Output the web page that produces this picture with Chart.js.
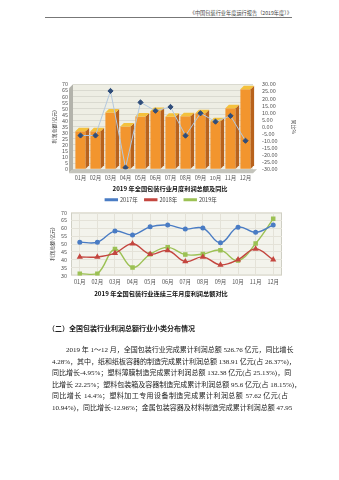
<!DOCTYPE html>
<html><head><meta charset="utf-8">
<script src="https://cdn.jsdelivr.net/npm/chart.js@4"></script>
<style>
html,body{margin:0;padding:0;background:#fff;}
body{width:339px;height:480px;position:relative;overflow:hidden;font-family:"Liberation Serif","Noto Sans CJK SC",serif;color:#222;}
.abs{position:absolute;}
#hdr{right:47px;top:9px;font-size:5.2px;font-family:"Noto Sans CJK SC",sans-serif;color:#444;white-space:nowrap;}
#hline{left:45px;top:17px;width:247px;height:0;border-top:0.6px solid #777;}
#c1wrap{left:40px;top:72px;width:260px;height:121px;}
#c2wrap{left:40px;top:190px;width:260px;height:109px;}
#head2{left:48px;top:323px;font-size:7px;font-weight:bold;font-family:"Noto Sans CJK SC",sans-serif;white-space:nowrap;}
#para{left:52px;top:345px;width:236px;font-size:7px;}
#para div{height:11.6px;line-height:11.6px;text-align:justify;text-align-last:justify;white-space:nowrap;}
</style></head><body>
<div id="hdr" class="abs">《中国包装行业年度运行报告（2019年度）》</div>
<div id="hline" class="abs"></div>
<div id="c1wrap" class="abs"><canvas id="c1"></canvas></div>
<div id="c2wrap" class="abs"><canvas id="c2"></canvas></div>
<div id="head2" class="abs">（二）全国包装行业利润总额行业小类分布情况</div>
<div id="para" class="abs">
<div style="padding-left:14px">2019 年 1～12 月，全国包装行业完成累计利润总额 526.76 亿元，同比增长</div>
<div>4.28%，其中，纸和纸板容器的制造完成累计利润总额 138.91 亿元(占 26.37%)，</div>
<div>同比增长-4.95%；塑料薄膜制造完成累计利润总额 132.38 亿元(占 25.13%)，同</div>
<div>比增长 22.25%；塑料包装箱及容器制造完成累计利润总额 95.6 亿元(占 18.15%)，</div>
<div>同比增长 14.4%；塑料加工专用设备制造完成累计利润总额 57.62 亿元(占</div>
<div>10.94%)，同比增长-12.96%；金属包装容器及材料制造完成累计利润总额 47.95</div>
</div>
<script>
const months = ['01月','02月','03月','04月','05月','06月','07月','08月','09月','10月','11月','12月'];
const profit2017 = [51.2,51.2,58.2,55.8,60.9,62.0,59.5,60.1,50.8,60.7,57.4,62.0];
const profit2018 = [41.8,41.8,44.2,50.2,43.6,45.9,38.9,41.8,36.8,40.1,46.9,40.1];
const profit2019 = [31.2,31.2,46.8,35.1,43.5,47.9,43.3,43.7,46.1,39.5,50.3,66.0];
const growth2019 = [-6.2,-6.2,25.3,-28.9,17.2,11.3,14.0,-6.3,9.5,3.6,7.7,-9.9];
const leftTitle = '利润总额(亿元)';
const rightTitle = '同比%';
const title1 = '2019 年全国包装行业月度利润总额及同比';
const title2 = '2019 年全国包装行业连续三年月度利润总额对比';
const seriesNames = ['2017年','2018年','2019年'];

const CJK = '"Noto Sans CJK SC", sans-serif';
Chart.defaults.font.family = CJK;
Chart.defaults.animation = false;
Chart.defaults.devicePixelRatio = 1;

const wallPlugin = {
  id:'wall3d',
  beforeDatasetsDraw(chart){
    const {ctx, chartArea:{left:L,right:R,top:T,bottom:B}} = chart;
    ctx.save();
    ctx.fillStyle = '#b3b3ab';
    ctx.beginPath(); ctx.moveTo(L-4,T+4); ctx.lineTo(L,T); ctx.lineTo(L,B); ctx.lineTo(L-4,B+4); ctx.closePath(); ctx.fill();
    ctx.fillStyle = '#c4c4bc';
    ctx.beginPath(); ctx.moveTo(L-4,B+4); ctx.lineTo(L,B); ctx.lineTo(R+4,B); ctx.lineTo(R,B+4); ctx.closePath(); ctx.fill();
    ctx.restore();
  },
  beforeDraw(chart){
    const {ctx, chartArea:{left:L,right:R,top:T,bottom:B}} = chart;
    ctx.save();
    ctx.fillStyle = '#eeeee4';
    ctx.fillRect(L,T,R-L,B-T);
    ctx.restore();
  },
  afterDatasetDraw(chart, args){
    if (args.index !== 0) return;
    const ctx = chart.ctx;
    const d = 3.5;
    ctx.save();
    args.meta.data.forEach(el => {
      const p = el.getProps(['x','y','base','width'], true);
      const hw = p.width/2;
      ctx.fillStyle = '#b8621c';
      ctx.beginPath();
      ctx.moveTo(p.x+hw, p.y); ctx.lineTo(p.x+hw+d, p.y-d); ctx.lineTo(p.x+hw+d, p.base-d); ctx.lineTo(p.x+hw, p.base);
      ctx.closePath(); ctx.fill();
      ctx.fillStyle = '#f4c13c';
      ctx.beginPath();
      ctx.moveTo(p.x-hw, p.y); ctx.lineTo(p.x-hw+d, p.y-d); ctx.lineTo(p.x+hw+d, p.y-d); ctx.lineTo(p.x+hw, p.y);
      ctx.closePath(); ctx.fill();
    });
    ctx.restore();
  }
};

const tickX = {font:{size:5.5}, color:'#555', maxRotation:0, minRotation:0, autoSkip:false};

new Chart(document.getElementById('c1'), {
  data:{
    labels: months,
    datasets:[
      {type:'bar', label:'利润总额', data: profit2019, yAxisID:'y', backgroundColor:'#f2952e', barPercentage:0.68, categoryPercentage:1, order:2},
      {type:'line', label:'同比', data: growth2019, yAxisID:'y1', borderColor:'#b3c8de', borderWidth:1, tension:0,
       pointStyle:'rectRot', pointRadius:2.6, pointBackgroundColor:'#2f4d7a', pointBorderColor:'#2f4d7a', order:1}
    ]
  },
  options:{
    responsive:true, maintainAspectRatio:false,
    layout:{padding:{top:8,left:0,right:0,bottom:0}},
    plugins:{
      legend:{display:false},
      tooltip:{enabled:false},
      title:{display:true, text:title1, position:'bottom', font:{size:6.2, weight:'bold', family:CJK}, color:'#111', padding:{top:2.4,bottom:1}}
    },
    scales:{
      x:{grid:{display:false, drawTicks:false}, border:{display:false},
         ticks:Object.assign({padding:5}, tickX),
         afterFit(s){ s.height = 13; }},
      y:{position:'left', min:0, max:70, ticks:{stepSize:5, autoSkip:false, font:{size:5.5}, color:'#555', padding:5},
         grid:{color:'#dadad0', drawTicks:false}, border:{display:false},
         title:{display:true, text:leftTitle, font:{size:5}, color:'#333', padding:{top:11,bottom:0}},
         afterFit(s){ s.width = 33; }},
      y1:{position:'right', min:-30, max:30, ticks:{stepSize:5, autoSkip:false, font:{size:5.5}, color:'#555', padding:9, callback:v=>Number(v).toFixed(2)},
         grid:{display:false, drawTicks:false}, border:{display:false},
         title:{display:true, text:rightTitle, font:{size:5}, color:'#333', padding:{top:3,bottom:0}},
         afterFit(s){ s.width = 47; }}
    }
  },
  plugins:[wallPlugin]
});

const bgPlugin = {
  id:'bg2',
  beforeDraw(chart){
    const {ctx, chartArea:{left:L,right:R,top:T,bottom:B}} = chart;
    ctx.save(); ctx.fillStyle = '#f3f3ec'; ctx.fillRect(L,T,R-L,B-T);
    ctx.strokeStyle = '#cfcfc4'; ctx.lineWidth = 1; ctx.strokeRect(L+0.5,T+0.5,R-L-1,B-T-1);
    ctx.restore();
  }
};

new Chart(document.getElementById('c2'), {
  type:'line',
  data:{
    labels: months,
    datasets:[
      {label:seriesNames[0], data:profit2017, borderColor:'#4a7cc4', backgroundColor:'#4a7cc4', borderWidth:1.4, tension:0.4, pointStyle:'circle', pointRadius:1.8, pointBackgroundColor:'#4a7cc4', pointBorderColor:'#4a7cc4'},
      {label:seriesNames[1], data:profit2018, borderColor:'#c4463f', backgroundColor:'#c4463f', borderWidth:1.4, tension:0.4, pointStyle:'triangle', pointRadius:2.2, pointBackgroundColor:'#c4463f', pointBorderColor:'#c4463f'},
      {label:seriesNames[2], data:profit2019, borderColor:'#9cc154', backgroundColor:'#9cc154', borderWidth:1.4, tension:0.4, pointStyle:'rect', pointRadius:2.2, pointBackgroundColor:'#9cc154', pointBorderColor:'#9cc154'}
    ]
  },
  options:{
    responsive:true, maintainAspectRatio:false,
    layout:{padding:{top:0,left:0,right:18,bottom:0}},
    plugins:{
      legend:{display:true, position:'top', labels:{font:{size:5.5}, color:'#444', boxWidth:12, boxHeight:1.4, padding:7}},
      tooltip:{enabled:false},
      title:{display:true, text:title2, position:'bottom', font:{size:6.2, weight:'bold', family:CJK}, color:'#111', padding:{top:2,bottom:2}}
    },
    scales:{
      x:{offset:true, grid:{display:true, color:'#e4e2d8', drawTicks:false}, border:{display:false},
         ticks:Object.assign({padding:3}, tickX),
         afterFit(s){ s.height = 12; }},
      y:{min:30, max:70, ticks:{stepSize:5, autoSkip:false, font:{size:5.5}, color:'#555', padding:4},
         grid:{color:'#e4e2d8', drawTicks:false}, border:{display:false},
         title:{display:true, text:leftTitle, font:{size:5}, color:'#333', padding:{top:9,bottom:0}},
         afterFit(s){ s.width = 31; }}
    }
  },
  plugins:[bgPlugin]
});
</script>
</body></html>
